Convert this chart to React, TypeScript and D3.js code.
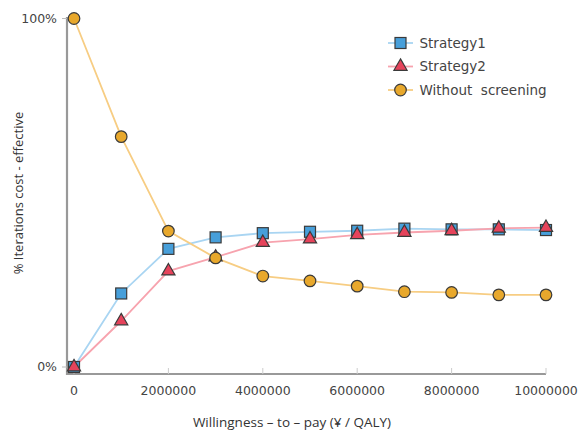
import React from "react";
import * as d3 from "d3";

const wtp = [0, 1000000, 2000000, 3000000, 4000000, 5000000, 6000000, 7000000, 8000000, 9000000, 10000000];
const strategy1 = [0, 21.1, 33.9, 37.2, 38.4, 38.8, 39.1, 39.7, 39.5, 39.5, 39.3];
const strategy2 = [0, 13.2, 27.5, 31.5, 35.7, 36.7, 37.9, 38.6, 39.1, 39.8, 40.0];
const withoutScreening = [100, 66.1, 39.0, 31.3, 26.1, 24.7, 23.2, 21.6, 21.4, 20.7, 20.7];
const xTicks = [0, 2000000, 4000000, 6000000, 8000000, 10000000];
const yTicks = [0, 100];
const seriesNames = ["Strategy1", "Strategy2", "Without  screening"];

const W = 579;
const H = 430;

export default function App() {
  const x = d3.scaleLinear().domain([0, 10000000]).range([74, 546]);
  const y = d3.scaleLinear().domain([0, 100]).range([367, 18.5]);
  const axisX = 67;
  const axisY = 374;

  const series = [
    { name: seriesNames[0], values: strategy1, line: "#a9d5f2", fill: "#479fda", shape: "square" },
    { name: seriesNames[1], values: strategy2, line: "#f7a3ae", fill: "#e6435b", shape: "triangle" },
    { name: seriesNames[2], values: withoutScreening, line: "#f7cd83", fill: "#e8a82c", shape: "circle" },
  ];

  const line = d3
    .line<number>()
    .x((_, i) => x(wtp[i]))
    .y((d) => y(d));

  const marker = (shape: string, cx: number, cy: number, fill: string, key: string) => {
    const stroke = "#3a3a3a";
    if (shape === "square") {
      return <rect key={key} x={cx - 5.5} y={cy - 5.5} width={11} height={11} fill={fill} stroke={stroke} strokeWidth={1.2} />;
    }
    if (shape === "triangle") {
      const s = d3.symbol(d3.symbolTriangle, 75)();
      return <path key={key} d={s || ""} transform={`translate(${cx},${cy})`} fill={fill} stroke={stroke} strokeWidth={1.2} />;
    }
    return <circle key={key} cx={cx} cy={cy} r={5.8} fill={fill} stroke={stroke} strokeWidth={1.2} />;
  };

  const tickFont = "'DejaVu Sans', Verdana, sans-serif";

  return (
    <svg width={W} height={H} style={{ position: "absolute", left: 0, top: 0, background: "#fff" }}>
      {/* axes */}
      <line x1={axisX} y1={17} x2={axisX} y2={axisY + 1} stroke="#999" strokeWidth={2.2} />
      <line x1={axisX - 1} y1={axisY} x2={x(10000000)} y2={axisY} stroke="#999" strokeWidth={2.2} />
      {yTicks.map((t) => (
        <g key={"yt" + t}>
          <line x1={axisX - 5} x2={axisX} y1={y(t)} y2={y(t)} stroke="#bbb" strokeWidth={1} />
          <text x={57} y={y(t)} dy="0.35em" textAnchor="end" fontFamily={tickFont} fontSize={12.5} fill="#444">
            {t + "%"}
          </text>
        </g>
      ))}
      {xTicks.map((t) => (
        <g key={"xt" + t}>
          <line x1={x(t)} x2={x(t)} y1={axisY} y2={axisY - 6} stroke="#ccc" strokeWidth={1} />
          <text x={x(t)} y={390.5} dy="0.35em" textAnchor="middle" fontFamily={tickFont} fontSize={12.5} fill="#444">
            {t}
          </text>
        </g>
      ))}
      <text x={292} y={422} dy="0.35em" textAnchor="middle" fontFamily="'Open Sans', sans-serif" fontSize={13.5} fill="#333">
        Willingness – to – pay (¥ / QALY)
      </text>
      <text
        transform={`translate(18,193) rotate(-90)`}
        dy="0.35em"
        textAnchor="middle"
        fontFamily="'Open Sans', sans-serif"
        fontSize={13}
        fill="#333"
      >
        % Iterations cost - effective
      </text>
      {/* lines */}
      {series.map((s) => (
        <path key={"l" + s.name} d={line(s.values) || ""} fill="none" stroke={s.line} strokeWidth={1.8} />
      ))}
      {/* markers */}
      {series.map((s) => (
        <g key={"m" + s.name}>
          {s.values.map((v, i) => marker(s.shape, x(wtp[i]), y(v), s.fill, s.name + i))}
        </g>
      ))}
      {/* legend */}
      {series.map((s, i) => {
        const ly = 43 + i * 23.5;
        return (
          <g key={"lg" + s.name}>
            <line x1={388} x2={413} y1={ly} y2={ly} stroke={s.line} strokeWidth={1.8} />
            {marker(s.shape, 400.5, ly, s.fill, "lm" + i)}
            <text x={419.5} y={ly} dy="0.35em" fontFamily={tickFont} fontSize={13.5} fill="#444" style={{ whiteSpace: "pre" }}>
              {s.name}
            </text>
          </g>
        );
      })}
    </svg>
  );
}
